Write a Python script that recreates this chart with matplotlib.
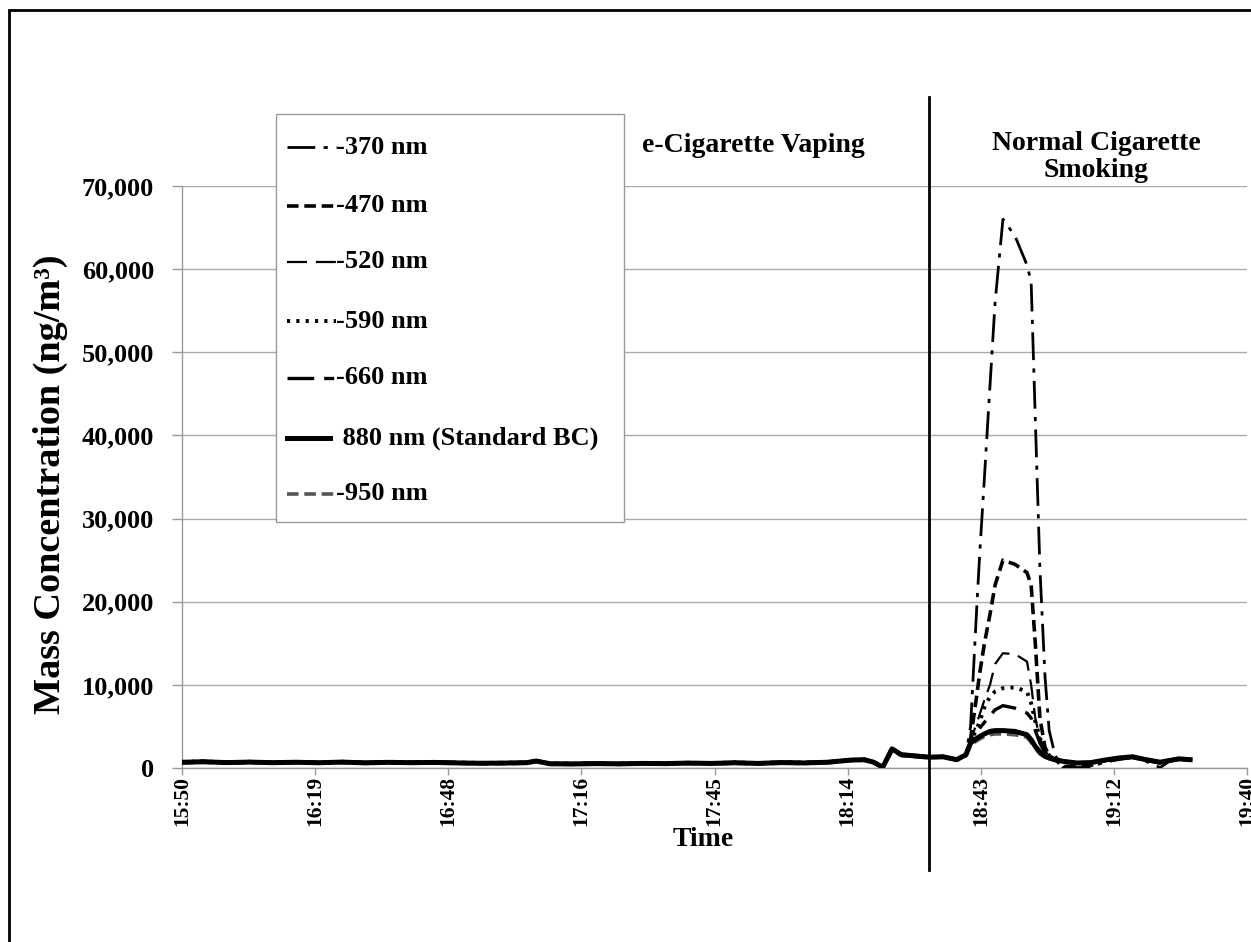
import matplotlib
matplotlib.use("Agg")
import matplotlib.pyplot as plt
from matplotlib.patches import Rectangle
from matplotlib.lines import Line2D

# ---------------- data ----------------
# time of each sample, minutes after midnight
time_min = [950.5, 955, 960, 965, 970, 975, 980, 985, 990, 995, 1000, 1005, 1010, 1015, 1020,
            1025, 1027, 1030, 1035, 1040, 1045, 1050, 1055, 1060, 1065, 1070, 1075, 1080, 1085, 1090,
            1095, 1098, 1100, 1102, 1104, 1106, 1109, 1112, 1115, 1118, 1120,
            1121, 1122.4, 1123, 1124, 1125.2, 1126.3, 1128, 1130.6, 1133.2, 1134.1, 1135, 1136, 1137.1, 1138, 1139.3,
            1141, 1144, 1147, 1150, 1153, 1156, 1159, 1162, 1164, 1166, 1168.5]

bc_370 = [760, 820, 720, 780, 700, 760, 690, 780, 680, 740, 700, 740, 670, 630, 650,
          700, 900, 570, 550, 590, 560, 610, 590, 650, 610, 690, 610, 710, 670, 760,
          1000, 1050, 750, 80, 2400, 1680, 1500, 1340, 1400, 1000, 1650,
          5000, 20000, 26000, 35000, 46000, 56000, 66000, 64000, 60500, 58500, 42000, 24000, 11000, 4500, 1500,
          100, 50, 150, 700, 1000, 1250, 800, 50, 800, 1100, 900]

bc_470 = [720, 780, 680, 740, 670, 720, 660, 740, 650, 710, 670, 700, 640, 600, 620,
          670, 870, 540, 520, 560, 530, 580, 560, 620, 580, 660, 580, 680, 640, 720,
          960, 1010, 710, 100, 2350, 1620, 1460, 1310, 1360, 1010, 1620,
          3500, 9000, 11500, 15000, 18500, 22000, 25000, 24500, 23500, 22000, 15000, 6000, 2500, 1500, 1000,
          200, 150, 300, 900, 1150, 1300, 950, 600, 850, 1050, 950]

bc_520 = [700, 760, 660, 720, 650, 700, 640, 720, 630, 690, 650, 680, 620, 580, 600,
          650, 850, 520, 500, 540, 510, 560, 540, 600, 560, 640, 560, 660, 620, 700,
          950, 1000, 700, 100, 2300, 1600, 1450, 1300, 1350, 1000, 1600,
          3300, 5500, 6500, 8200, 10000, 12500, 13800, 13700, 12800, 10000, 6000, 3500, 2000, 1500, 1100,
          800, 600, 650, 950, 1200, 1350, 1000, 700, 900, 1100, 1000]

bc_590 = [730, 790, 690, 750, 680, 730, 670, 750, 660, 720, 680, 710, 650, 610, 630,
          680, 880, 550, 530, 570, 540, 590, 570, 630, 590, 670, 590, 690, 650, 730,
          970, 1020, 720, 120, 2350, 1650, 1480, 1320, 1380, 1020, 1650,
          3200, 4800, 5600, 7300, 8600, 9200, 9600, 9700, 9200, 7800, 5600, 3600, 2000, 1500, 1100,
          800, 600, 650, 950, 1200, 1350, 1000, 700, 900, 1100, 1000]

bc_660 = [720, 780, 680, 740, 670, 720, 660, 740, 650, 710, 670, 700, 640, 600, 620,
          670, 870, 540, 520, 560, 530, 580, 560, 620, 580, 660, 580, 680, 640, 720,
          970, 1020, 720, 120, 2350, 1650, 1480, 1320, 1380, 1020, 1650,
          3100, 4300, 4800, 5500, 6300, 7000, 7500, 7200, 6600, 6000, 4500, 3000, 1800, 1400, 1100,
          800, 600, 650, 950, 1200, 1350, 1000, 700, 900, 1100, 1000]

bc_880 = [690, 750, 650, 710, 640, 690, 630, 710, 620, 680, 640, 670, 610, 570, 590,
          640, 840, 510, 490, 530, 500, 550, 530, 590, 550, 630, 550, 650, 610, 690,
          950, 1000, 700, 100, 2300, 1600, 1450, 1300, 1350, 1000, 1600,
          3000, 3600, 3800, 4100, 4400, 4500, 4500, 4400, 4000, 3400, 2600, 1900, 1400, 1200, 1000,
          800, 600, 650, 950, 1200, 1350, 1000, 700, 900, 1100, 1000]

bc_950 = [620, 690, 590, 650, 580, 630, 570, 650, 560, 620, 580, 610, 550, 510, 530,
          580, 770, 450, 430, 470, 440, 490, 470, 530, 490, 570, 490, 590, 550, 630,
          880, 930, 630, 40, 2100, 1500, 1350, 1250, 1300, 950, 1500,
          2800, 3300, 3500, 3800, 4000, 4100, 4100, 4000, 3700, 3100, 2400, 1700, 1300, 1100, 900,
          750, 550, 600, 900, 1150, 1300, 950, 650, 850, 1050, 950]

series_labels = ["-370 nm", "-470 nm", "-520 nm", "-590 nm", "-660 nm",
                 " 880 nm (Standard BC)", "-950 nm"]
series_values = [bc_370, bc_470, bc_520, bc_590, bc_660, bc_880, bc_950]

x_min, x_max, x_step = 950.4, 1180.8, 28.8
xtick_labels = ["15:50", "16:19", "16:48", "17:16", "17:45", "18:14", "18:43", "19:12", "19:40"]
ytick_values = [0, 10000, 20000, 30000, 40000, 50000, 60000, 70000]
ytick_labels = ["0", "10,000", "20,000", "30,000", "40,000", "50,000", "60,000", "70,000"]
divider_time = 1112.0  # 18:32
left_label = "e-Cigarette Vaping"
right_label = "Normal Cigarette\nSmoking"

# ---------------- styles ----------------
styles = [
    dict(color="black", lw=2.0, ls=(0, (10, 3, 1.5, 3))),
    dict(color="black", lw=2.6, ls=(0, (3.2, 1.6))),
    dict(color="black", lw=1.6, ls=(0, (9, 4))),
    dict(color="black", lw=2.8, ls=(0, (0.8, 1.6))),
    dict(color="black", lw=2.4, ls=(0, (8, 3, 3, 3))),
    dict(color="black", lw=3.6, ls="-"),
    dict(color="#555555", lw=2.6, ls=(0, (3.2, 1.6))),
]

FONT = "Liberation Serif"
W, H = 1251, 942
fig = plt.figure(figsize=(W / 100, H / 100), dpi=100)
fig.patch.set_facecolor("white")

ax = fig.add_axes([182 / W, 1 - 768 / H, (1247 - 182) / W, (768 - 186) / H])
draw_order = [6, 5, 4, 3, 2, 1, 0]
for i in draw_order:
    st = styles[i]
    ax.plot(time_min, series_values[i], color=st["color"], lw=st["lw"],
            linestyle=st["ls"], solid_joinstyle="round", dash_capstyle="butt", zorder=3 + (6 - i) * 0.1)

ax.set_xlim(x_min, x_max)
ax.set_ylim(0, 70000)
xticks = [x_min + k * x_step for k in range(len(xtick_labels))]
ax.set_xticks(xticks)
ax.set_xticklabels(xtick_labels, rotation=90, fontfamily=FONT, fontweight="bold", fontsize=15.5)
ax.set_yticks(ytick_values)
ax.set_yticklabels(ytick_labels, fontfamily=FONT, fontweight="bold", fontsize=19)
ax.tick_params(axis="y", length=7, color="#999999", width=1, pad=13)
ax.tick_params(axis="x", length=5, color="#999999", width=1, pad=1)
ax.grid(axis="y", color="#aaaaaa", lw=1)
ax.set_axisbelow(True)
for s in ["top", "right"]:
    ax.spines[s].set_visible(False)
for s in ["left", "bottom"]:
    ax.spines[s].set_color("#999999")
    ax.spines[s].set_linewidth(1)

# divider line
ax.axvline(divider_time, ymin=-(870 - 768) / 582, ymax=(768 - 97) / 582,
           color="black", lw=2, clip_on=False, zorder=5)

# texts
fig.text(50 / W, 1 - 484 / H, "Mass Concentration (ng/m³)", rotation=90, ha="center", va="center",
         fontfamily=FONT, fontweight="bold", fontsize=27.5)
fig.text(703 / W, 1 - 840 / H, "Time", ha="center", va="center",
         fontfamily=FONT, fontweight="bold", fontsize=20)
fig.text(753 / W, 1 - 146 / H, left_label, ha="center", va="center",
         fontfamily=FONT, fontweight="bold", fontsize=20)
fig.text(1096 / W, 1 - 157 / H, right_label, ha="center", va="center", linespacing=1.1,
         fontfamily=FONT, fontweight="bold", fontsize=20)

# legend box (manual)
fig.add_artist(Rectangle((276 / W, 1 - 522 / H), (624 - 276) / W, (522 - 114) / H,
                         transform=fig.transFigure, facecolor="white", edgecolor="#999999",
                         lw=1, zorder=10))
row_y = [147, 206, 262, 321, 378, 438, 494]
for i, y in enumerate(row_y):
    st = styles[i]
    x1 = 330 if i == 5 else 336
    fig.add_artist(Line2D([287 / W, x1 / W], [1 - y / H, 1 - y / H], transform=fig.transFigure,
                          color=st["color"], lw=st["lw"], linestyle=st["ls"], zorder=11))
    fig.text(336 / W, 1 - y / H, series_labels[i], ha="left", va="center",
             fontfamily=FONT, fontweight="bold", fontsize=19, zorder=12)

# outer frame
fig.add_artist(Rectangle((9 / W, -0.5), 2.0, (1 - 10 / H) + 0.5, transform=fig.transFigure,
                         fill=False, edgecolor="black", lw=2, zorder=20))

fig.savefig("out.png", dpi=100, facecolor="white")
